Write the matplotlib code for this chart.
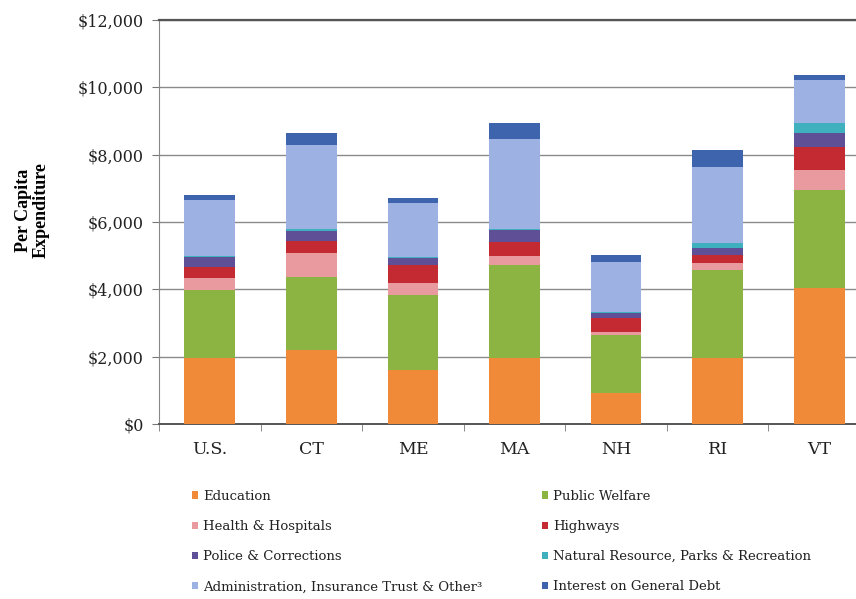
import matplotlib
matplotlib.use("Agg")
import matplotlib.pyplot as plt
from matplotlib.ticker import FuncFormatter, FixedLocator
import numpy as np

states = ["U.S.", "CT", "ME", "MA", "NH", "RI", "VT"]
education = [1960, 2200, 1600, 1950, 920, 1960, 4040]
welfare = [2020, 2170, 2230, 2780, 1720, 2610, 2910]
health = [350, 700, 370, 270, 100, 210, 590]
highways = [330, 380, 520, 400, 400, 240, 690]
police = [290, 280, 220, 350, 150, 210, 410]
natres = [50, 70, 30, 50, 30, 150, 300]
admin = [1650, 2490, 1590, 2680, 1490, 2250, 1280]
interest = [150, 350, 150, 460, 210, 510, 150]

series = [
    ("Education", education, "#F08A38"),
    ("Public Welfare", welfare, "#8CB443"),
    ("Health & Hospitals", health, "#E99A9E"),
    ("Highways", highways, "#C42A32"),
    ("Police & Corrections", police, "#5E4F96"),
    ("Natural Resource, Parks & Recreation", natres, "#3FB0BE"),
    ("Administration, Insurance Trust & Other\u00b3", admin, "#9DB2E2"),
    ("Interest on General Debt", interest, "#3F64AE"),
]

plt.rcParams['font.family'] = ['DejaVu Serif']

fig = plt.figure(figsize=(8.56, 5.99), dpi=100)
ax = fig.add_axes([159/856, 175/599, 711/856, 404/599])

x = np.arange(len(states))
bottom = np.zeros(len(states))
handles = {}
for name, vals, col in series:
    b = ax.bar(x, vals, 0.5, bottom=bottom, color=col, label=name, zorder=3)
    handles[name] = b
    bottom += np.array(vals)

ax.set_xlim(-0.5, len(states) - 0.5)
ax.set_ylim(0, 12000)
ax.yaxis.set_major_locator(FixedLocator(np.arange(0, 12001, 2000)))
ax.yaxis.set_major_formatter(FuncFormatter(lambda v, p: "\\$" + format(int(v), ",")))
ax.grid(axis='y', color='#8a8a8a', linewidth=1.0, zorder=0)
ax.set_xticks(x)
ax.set_xticklabels(states, fontsize=12.5, color='#222222')
ax.set_xticks(np.arange(-0.5, len(states), 1), minor=True)
ax.tick_params(axis='x', which='major', length=0, pad=12)
ax.tick_params(axis='x', which='minor', length=5, color='#777777')
ax.tick_params(axis='y', length=5, color='#777777', labelsize=11.5, pad=6,
               labelcolor='#222222')
ax.spines['right'].set_visible(False)
ax.spines['top'].set_color('#555555')
ax.spines['top'].set_linewidth(1.6)
ax.spines['left'].set_color('#888888')
ax.spines['bottom'].set_color('#555555')
ax.spines['bottom'].set_linewidth(1.4)

fig.text(32/856, 1 - 210/599, "Per Capita\nExpenditure", rotation=90, ha='center',
         va='center', fontsize=13, fontweight='bold', linespacing=1.05,
         family=['Liberation Serif'])

order = ["Education", "Health & Hospitals", "Police & Corrections",
         "Administration, Insurance Trust & Other\u00b3", "Public Welfare", "Highways",
         "Natural Resource, Parks & Recreation", "Interest on General Debt"]
leg = fig.legend([handles[n] for n in order], order, ncol=2, loc='upper left',
                 bbox_to_anchor=(180/856, 1 - 478/599), frameon=False, fontsize=9.5,
                 handlelength=0.5, handleheight=0.5, handletextpad=0.35,
                 labelspacing=1.3, columnspacing=4.5, labelcolor='#222222')

fig.savefig("out.png", dpi=100)
